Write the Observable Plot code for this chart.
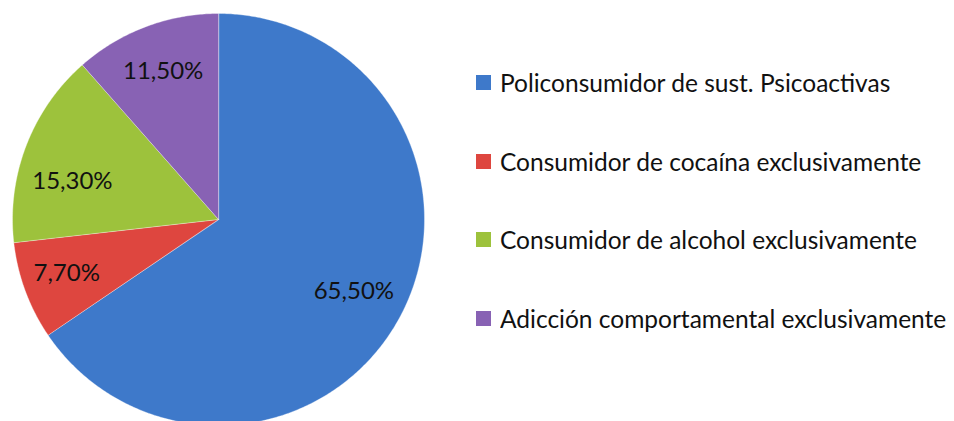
<!DOCTYPE html>
<html><head><meta charset="utf-8">
<script src="https://cdn.jsdelivr.net/npm/d3@7"></script>
<script src="https://cdn.jsdelivr.net/npm/@observablehq/plot@0.6"></script>
<style>
body{margin:0;background:#fff;}
#wrap{position:relative;width:954px;height:421px;overflow:hidden;}
#chart{position:absolute;left:0;top:0;}
#legend{position:absolute;left:476px;top:43px;width:478px;}
div.leg-swatches-columns div.leg-swatch{height:78.7px;padding-bottom:0;}
div.leg-swatches div.leg-swatch svg{margin-right:9px !important;}
div.leg-swatches{margin:0;}
</style></head><body>
<div id="wrap"><div id="chart"></div><div id="legend"></div></div>
<script>
const categories = [
  "Policonsumidor de sust. Psicoactivas",
  "Consumidor de cocaína exclusivamente",
  "Consumidor de alcohol exclusivamente",
  "Adicción comportamental exclusivamente"
];
const values = [65.5, 7.7, 15.3, 11.5];
const valueLabels = ["65,50%", "7,70%", "15,30%", "11,50%"];
const colors = ["#3e79ca", "#de463f", "#9dc23c", "#8862b4"];

const rows = categories.map((c, i) => ({cat: c, value: values[i], label: valueLabels[i]}));
const arcs = d3.pie().sort(null).value(d => d.value)(rows);

const pts = arcs.flatMap(p => {
  const n = Math.max(2, Math.ceil((p.endAngle - p.startAngle) / 0.01));
  const arr = [{cat: p.data.cat, x: 0, y: 0}];
  for (let i = 0; i <= n; i++) {
    const a = p.startAngle + (p.endAngle - p.startAngle) * i / n;
    arr.push({cat: p.data.cat, x: Math.sin(a), y: Math.cos(a)});
  }
  return arr;
});

// label placement: mid-angle at 0.76 of radius, nudged (in pixels) inside the slice
const R = 206; // pixels per data unit
const labelR = 0.76;
const nudges = [[-3, -1], [-5, -1], [0, 18], [0, -2]];
const labelData = arcs.map((p, i) => {
  const m = (p.startAngle + p.endAngle) / 2;
  return {
    x: labelR * Math.sin(m) + nudges[i][0] / R,
    y: labelR * Math.cos(m) - nudges[i][1] / R,
    t: p.data.label
  };
});

const chart = Plot.plot({
  width: 954, height: 421,
  x: {domain: [-1, 1], range: [12, 424], axis: null},
  y: {domain: [-1, 1], range: [425, 13], axis: null},
  color: {domain: categories, range: colors},
  style: {fontFamily: "Lato", background: "transparent"},
  marks: [
    Plot.line(pts, {x: "x", y: "y", z: "cat", fill: "cat", stroke: "#ffffff", strokeOpacity: 0.35, strokeWidth: 1, curve: "linear-closed"}),
    Plot.text(labelData, {x: "x", y: "y", text: "t", fontSize: 24, fill: "#111", fontFamily: "Lato"})
  ]
});
document.getElementById("chart").appendChild(chart);

const legend = Plot.legend({
  color: {domain: categories, range: colors},
  legend: "swatches", columns: 1, swatchSize: 15, className: "leg",
  style: {fontFamily: "Lato", fontSize: "24.5px", color: "#111"}
});
document.getElementById("legend").appendChild(legend);
</script>
</body></html>
